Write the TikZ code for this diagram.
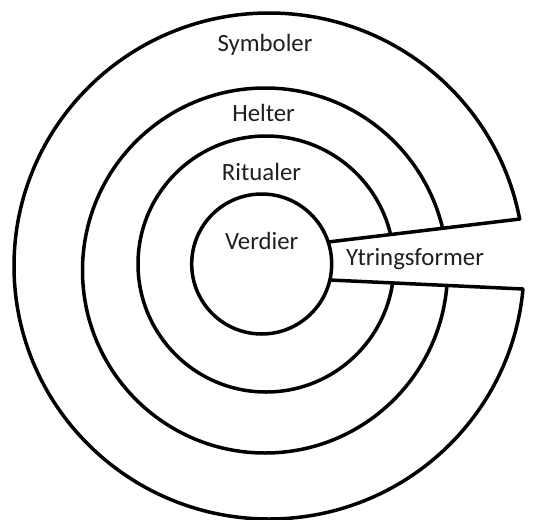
\documentclass[tikz,border=0pt]{standalone}
\usepackage{fontspec}
\setmainfont{Carlito}
\begin{document}
\begin{tikzpicture}[x=1pt,y=-1pt,
  ring/.style={draw=black,line width=3.5pt},
  label/.style={anchor=base,text=black!88,font=\fontsize{24.8}{28}\selectfont,inner sep=0pt}]
\useasboundingbox[fill=white] (0,0) rectangle (553,519);
% rings
\draw[ring] (269,266) ellipse [x radius=255, y radius=253];
\draw[ring] (265,270.5) circle (182.5);
\draw[ring] (266,264) circle (128);
% opening for the wedge
\fill[white] (340,240.8) -- (560,214.2) -- (560,290.7) -- (340,280.4) -- cycle;
% inner circle
\draw[ring] (261.7,264) circle (70);
% wedge edges
\coordinate (t1) at (328.2,242);
\coordinate (t2) at (520,219);
\coordinate (b1) at (329.8,280);
\coordinate (b2) at (523,289);
\draw[ring,line cap=round] (t1) -- (t2);
\draw[ring,line cap=round] (b1) -- (b2);
% labels
\node[label] (sym) at (265,52) {Symboler};
\node[label] (hel) at (263.6,121) {Helter};
\node[label] (rit) at (261.5,180) {Ritualer};
\node[label] (ver) at (261.7,249.3) {Verdier};
\node[label] (ytr) at (415,265) {Ytringsformer};
\end{tikzpicture}
\end{document}
